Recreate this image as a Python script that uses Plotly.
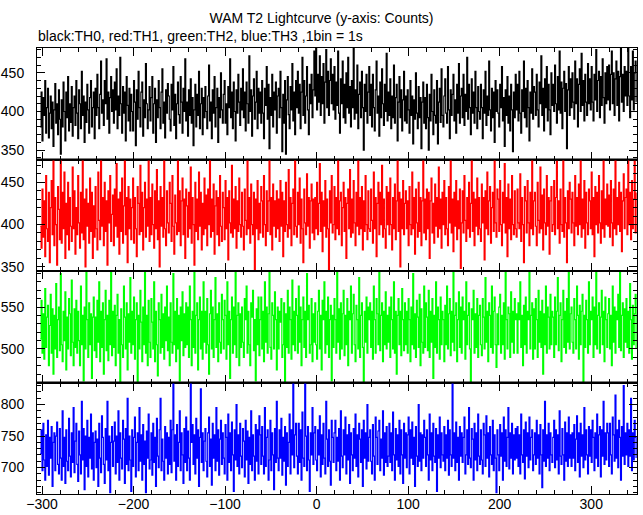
import plotly.graph_objects as go
from plotly.subplots import make_subplots

# time bins (1 bin = 1 s)
time = list(range(-302, 350))

th0 = [
380, 425, 362, 418, 395, 440, 372, 405, 430, 366, 398, 420, 378, 412, 355, 402, 436, 385, 410, 370,
428, 390, 345, 415, 380, 438, 400, 362, 425, 392, 445, 375, 410, 386, 432, 368, 405, 420, 382, 440,
398, 365, 428, 410, 378, 452, 395, 420, 360, 412, 386, 435, 402, 372, 418, 440, 380, 405, 425, 365,
430, 395, 448, 405, 378, 422, 465, 398, 415, 382, 440, 410, 468, 390, 425, 372, 418, 445, 400, 428,
385, 438, 402, 455, 378, 420, 395, 470, 410, 372, 432, 398, 425, 362, 445, 408, 388, 430, 375, 422,
400, 375, 440, 412, 356, 428, 390, 452, 405, 380, 425, 438, 368, 415, 392, 462, 410, 378, 402, 432,
388, 418, 445, 372, 410, 430, 360, 415, 392, 440, 405, 378, 425, 455, 385, 412, 366, 428, 398, 436,
420, 390, 375, 435, 402, 458, 382, 422, 365, 410, 438, 396, 385, 445, 412, 372, 430, 400, 468, 388,
412, 368, 428, 395, 442, 385, 418, 356, 402, 435, 380, 422, 395, 452, 378, 410, 430, 370, 418, 392,
432, 400, 378, 420, 460, 388, 412, 365, 428, 398, 445, 380, 405, 430, 360, 418, 392, 450, 402, 385,
422, 440, 385, 410, 370, 432, 405, 468, 392, 425, 378, 438, 400, 362, 428, 398, 448, 412, 382, 430,
402, 455, 392, 425, 375, 438, 410, 385, 472, 400, 428, 368, 420, 442, 390, 412, 452, 378, 430, 398,
425, 385, 440, 398, 365, 430, 408, 458, 390, 435, 352, 418, 395, 448, 380, 425, 402, 438, 372, 420,
430, 392, 452, 405, 348, 422, 385, 440, 345, 415, 445, 396, 378, 432, 402, 462, 388, 425, 370, 440,
405, 452, 398, 435, 378, 425, 470, 395, 440, 385, 420, 458, 402, 370, 435, 410, 448, 392, 428, 478,
420, 482, 402, 448, 412, 472, 395, 445, 410, 462, 385, 438, 480, 405, 452, 395, 440, 468, 410, 448,
402, 458, 390, 438, 408, 478, 398, 372, 442, 410, 465, 392, 435, 385, 450, 405, 470, 398, 432, 380,
440, 405, 482, 390, 428, 398, 460, 378, 422, 438, 392, 452, 405, 350, 435, 400, 448, 385, 425, 458,
395, 435, 380, 448, 405, 375, 428, 465, 398, 420, 368, 438, 392, 455, 410, 382, 435, 400, 475, 388,
425, 395, 442, 378, 420, 392, 460, 385, 418, 435, 362, 412, 445, 392, 428, 375, 415, 452, 388, 420,
385, 428, 402, 372, 440, 395, 420, 358, 415, 390, 450, 398, 378, 432, 392, 418, 352, 412, 438, 385,
418, 378, 435, 392, 350, 422, 388, 448, 400, 370, 428, 395, 385, 440, 358, 412, 430, 386, 455, 395,
380, 420, 442, 398, 385, 458, 402, 365, 428, 395, 422, 448, 388, 415, 372, 435, 398, 462, 385, 420,
430, 392, 448, 382, 422, 400, 470, 390, 435, 405, 370, 442, 398, 425, 385, 452, 405, 378, 432, 400,
390, 435, 405, 365, 428, 398, 452, 382, 420, 395, 465, 402, 375, 430, 392, 425, 360, 440, 400, 428,
398, 380, 435, 405, 458, 388, 418, 355, 428, 395, 445, 385, 420, 375, 435, 402, 348, 425, 392, 448,
402, 435, 388, 452, 398, 372, 428, 400, 465, 392, 430, 380, 440, 405, 362, 425, 398, 455, 390, 432,
425, 395, 448, 402, 380, 438, 410, 472, 395, 430, 375, 442, 405, 458, 388, 435, 402, 370, 450, 408,
435, 400, 460, 410, 385, 445, 402, 478, 398, 438, 378, 430, 452, 400, 436, 352, 428, 458, 395, 442,
405, 450, 412, 390, 465, 410, 442, 380, 435, 455, 400, 475, 408, 440, 388, 448, 412, 395, 462, 410,
442, 402, 458, 412, 388, 448, 415, 480, 400, 440, 452, 392, 445, 408, 468, 418, 385, 450, 410, 458,
415, 460, 402, 448, 478, 410, 450, 395, 442, 465, 408, 452, 388, 445, 482, 412, 448, 400, 458, 420,
452, 408, 482, 420, 392, 458, 415, 478, 402, 450, 465, 412,
]

th1 = [
398, 372, 442, 385, 428, 362, 458, 395, 380, 438, 355, 420, 452, 388, 485, 375, 432, 400, 352, 445,
418, 382, 490, 378, 438, 395, 462, 360, 425, 388, 450, 370, 432, 398, 380, 468, 395, 440, 365, 420,
388, 458, 402, 372, 438, 390, 482, 382, 430, 350, 442, 398, 425, 378, 455, 392, 438, 360, 422, 385,
445, 395, 370, 462, 405, 382, 490, 398, 432, 375, 450, 392, 428, 352, 440, 402, 458, 380, 412, 435,
375, 442, 398, 472, 385, 430, 365, 438, 392, 455, 378, 422, 488, 388, 432, 355, 445, 395, 430, 382,
420, 455, 378, 432, 395, 362, 445, 425, 388, 470, 392, 438, 370, 420, 450, 385, 430, 398, 480, 380,
432, 388, 448, 400, 372, 440, 395, 465, 382, 428, 350, 445, 398, 432, 385, 492, 395, 375, 440, 402,
390, 450, 425, 380, 458, 398, 365, 435, 402, 388, 478, 392, 440, 375, 428, 455, 388, 430, 360, 442,
422, 385, 438, 395, 468, 378, 432, 400, 352, 450, 392, 430, 382, 462, 398, 438, 370, 425, 388, 455,
395, 435, 375, 442, 400, 490, 385, 430, 392, 448, 365, 422, 440, 388, 432, 375, 458, 398, 380, 438,
420, 382, 452, 395, 432, 358, 440, 402, 390, 470, 385, 430, 395, 445, 372, 428, 392, 455, 400, 385,
438, 398, 370, 442, 405, 388, 478, 395, 432, 378, 448, 400, 388, 438, 345, 430, 395, 452, 382, 425,
390, 445, 428, 385, 458, 400, 375, 440, 392, 428, 485, 388, 432, 370, 448, 398, 428, 385, 440, 395,
430, 380, 452, 398, 438, 362, 428, 392, 450, 400, 385, 465, 395, 432, 375, 425, 442, 388, 490, 398,
385, 438, 400, 455, 378, 430, 395, 355, 442, 402, 388, 460, 398, 432, 372, 428, 448, 390, 430, 382,
432, 395, 450, 388, 425, 472, 392, 438, 368, 428, 398, 452, 385, 430, 395, 346, 440, 402, 458, 390,
400, 445, 382, 432, 395, 478, 388, 428, 438, 375, 420, 450, 392, 432, 360, 425, 442, 395, 465, 385,
430, 390, 452, 402, 375, 438, 398, 485, 388, 432, 395, 445, 370, 428, 392, 458, 400, 382, 440, 395,
392, 442, 405, 378, 462, 395, 432, 362, 425, 450, 388, 438, 400, 470, 385, 430, 395, 372, 445, 400,
438, 388, 455, 400, 370, 432, 395, 448, 382, 428, 482, 392, 438, 350, 430, 395, 452, 388, 425, 440,
395, 428, 375, 445, 400, 388, 462, 395, 432, 365, 442, 402, 385, 450, 392, 432, 375, 428, 492, 390,
430, 382, 442, 395, 438, 360, 428, 455, 390, 425, 378, 448, 398, 432, 385, 468, 395, 430, 372, 438,
400, 452, 388, 432, 395, 375, 445, 402, 480, 390, 430, 368, 438, 398, 452, 382, 428, 395, 442, 348,
402, 440, 390, 458, 405, 380, 432, 395, 450, 385, 425, 492, 392, 438, 375, 430, 398, 455, 388, 432,
395, 380, 448, 402, 432, 358, 440, 395, 462, 388, 428, 445, 378, 420, 438, 392, 488, 402, 385, 442,
430, 392, 452, 400, 375, 438, 402, 472, 390, 432, 362, 448, 395, 430, 382, 458, 400, 388, 440, 395,
385, 442, 402, 395, 460, 380, 432, 400, 355, 445, 428, 390, 452, 402, 375, 438, 395, 482, 388, 428,
438, 398, 375, 450, 405, 390, 468, 395, 435, 370, 442, 402, 388, 458, 398, 432, 365, 428, 445, 392,
400, 452, 388, 432, 475, 395, 428, 378, 442, 400, 392, 490, 385, 432, 402, 355, 440, 395, 450, 430,
390, 438, 402, 375, 458, 398, 432, 388, 448, 400, 482, 385, 430, 395, 452, 372, 438, 402, 388, 442,
428, 395, 462, 388, 432, 362, 445, 400, 438, 390, 458, 402, 378, 440, 395, 490, 385, 430, 400, 448,
398, 435, 385, 452, 402, 375, 442, 395, 478, 388, 432, 400, 450, 392, 438, 368, 428, 460, 395, 432,
442, 388, 490, 400, 438, 382, 452, 395, 430, 475, 390, 438,
]

th2 = [
512, 558, 495, 542, 488, 572, 502, 538, 552, 480, 528, 565, 495, 548, 470, 540, 500, 578, 490, 535,
550, 498, 590, 505, 485, 545, 510, 568, 475, 538, 500, 560, 542, 492, 582, 508, 480, 548, 502, 558,
495, 545, 510, 480, 575, 505, 540, 462, 550, 500, 598, 535, 490, 555, 505, 542, 465, 538, 562, 498,
538, 490, 558, 508, 580, 485, 545, 502, 555, 470, 535, 570, 498, 540, 486, 558, 505, 598, 492, 545,
502, 552, 480, 540, 565, 495, 535, 458, 548, 505, 490, 575, 538, 500, 555, 475, 542, 508, 585, 495,
545, 505, 562, 488, 535, 555, 458, 540, 500, 570, 532, 485, 550, 505, 595, 495, 540, 480, 558, 508,
490, 560, 532, 500, 580, 485, 545, 505, 468, 555, 535, 495, 565, 502, 542, 488, 550, 510, 575, 498,
538, 480, 555, 508, 495, 590, 505, 545, 485, 560, 500, 540, 462, 550, 510, 568, 492, 542, 502, 555,
505, 550, 490, 575, 535, 480, 545, 502, 598, 495, 540, 555, 475, 535, 562, 500, 545, 488, 580, 508,
545, 495, 560, 505, 470, 542, 570, 500, 550, 490, 535, 585, 502, 542, 485, 555, 508, 495, 565, 535,
500, 558, 540, 488, 580, 505, 545, 465, 535, 562, 495, 550, 505, 598, 490, 540, 555, 480, 542, 502,
550, 508, 490, 560, 535, 575, 495, 545, 505, 480, 555, 538, 570, 498, 535, 462, 548, 505, 562, 492,
535, 562, 500, 545, 485, 580, 508, 550, 495, 542, 595, 502, 488, 555, 540, 500, 568, 535, 475, 550,
500, 545, 532, 560, 490, 505, 555, 458, 542, 502, 570, 495, 550, 535, 488, 582, 505, 545, 498, 560,
540, 495, 575, 508, 550, 480, 535, 562, 502, 545, 490, 590, 535, 552, 495, 505, 560, 485, 542, 508,
555, 505, 488, 545, 570, 500, 540, 475, 558, 535, 580, 495, 545, 505, 562, 490, 535, 552, 462, 540,
502, 560, 535, 495, 595, 508, 548, 488, 555, 500, 542, 570, 492, 540, 505, 560, 480, 545, 535, 575,
495, 542, 565, 505, 485, 552, 535, 500, 585, 490, 540, 555, 502, 458, 545, 508, 562, 495, 550, 535,
555, 502, 545, 488, 575, 535, 495, 560, 542, 505, 598, 498, 540, 555, 485, 545, 505, 568, 500, 540,
508, 550, 490, 562, 535, 500, 580, 495, 545, 470, 540, 560, 505, 545, 492, 572, 535, 498, 555, 505,
545, 495, 560, 535, 485, 550, 505, 590, 500, 542, 490, 558, 538, 502, 565, 480, 548, 508, 495, 575,
502, 555, 538, 498, 570, 490, 545, 508, 560, 465, 540, 502, 580, 495, 550, 535, 488, 562, 505, 545,
535, 485, 552, 505, 575, 500, 542, 560, 492, 545, 508, 598, 498, 540, 555, 485, 535, 568, 502, 550,
495, 562, 535, 545, 488, 580, 505, 540, 555, 500, 458, 548, 535, 570, 495, 542, 502, 560, 490, 540,
552, 505, 492, 560, 538, 500, 585, 508, 545, 485, 555, 540, 502, 575, 495, 545, 562, 505, 478, 542,
505, 550, 565, 495, 540, 505, 555, 488, 595, 535, 500, 550, 542, 490, 568, 508, 545, 495, 560, 535,
542, 495, 555, 535, 580, 502, 540, 480, 552, 505, 562, 495, 545, 535, 598, 500, 540, 555, 488, 548,
500, 560, 535, 490, 570, 508, 545, 502, 558, 470, 542, 505, 575, 495, 550, 538, 500, 565, 505, 545,
538, 490, 562, 505, 545, 585, 498, 540, 555, 485, 535, 570, 502, 545, 495, 560, 508, 596, 500, 542,
550, 508, 495, 560, 535, 500, 575, 540, 488, 552, 505, 545, 565, 460, 540, 502, 558, 535, 495, 580,
505, 545, 535, 562, 490, 550, 505, 592, 500, 540, 555, 495, 538, 570, 505, 545, 485, 562, 535, 502,
542, 560, 500, 540, 480, 575, 508, 550, 495, 545, 535, 565, 502, 598, 498, 540, 555, 490, 548, 508,
560, 502, 545, 495, 578, 535, 488, 552, 505, 542, 565, 500,
]

th3 = [
722, 760, 695, 770, 712, 680, 752, 702, 775, 688, 748, 715, 765, 670, 740, 755, 695, 750, 772, 705,
690, 762, 715, 680, 790, 702, 748, 675, 760, 710, 695, 778, 718, 685, 755, 708, 795, 692, 742, 770,
705, 678, 758, 720, 690, 805, 712, 762, 665, 750, 702, 775, 685, 748, 715, 785, 698, 755, 680, 740,
758, 700, 745, 670, 770, 715, 692, 782, 748, 705, 675, 762, 712, 805, 695, 750, 660, 740, 765, 702,
742, 772, 690, 750, 708, 790, 680, 755, 715, 698, 775, 745, 675, 762, 705, 810, 695, 750, 712, 662,
760, 702, 748, 780, 685, 740, 755, 695, 795, 710, 752, 680, 768, 705, 742, 660, 758, 715, 785, 698,
712, 755, 688, 770, 708, 748, 670, 778, 718, 700, 760, 810, 695, 745, 710, 680, 765, 715, 755, 690,
748, 705, 775, 692, 760, 835, 710, 752, 680, 768, 702, 740, 790, 695, 755, 720, 675, 762, 708, 780,
695, 758, 715, 680, 835, 740, 768, 705, 752, 690, 778, 715, 760, 670, 748, 825, 708, 755, 695, 742,
762, 710, 685, 755, 780, 702, 745, 672, 770, 715, 752, 695, 795, 710, 760, 688, 745, 775, 705, 755,
715, 690, 768, 748, 680, 785, 708, 755, 695, 772, 720, 662, 760, 712, 800, 702, 752, 690, 770, 718,
700, 762, 742, 685, 775, 712, 758, 675, 748, 705, 790, 695, 752, 718, 680, 768, 710, 760, 690, 782,
752, 705, 765, 718, 690, 795, 702, 748, 760, 680, 712, 775, 695, 755, 720, 665, 762, 708, 805, 715,
695, 760, 715, 778, 688, 748, 710, 765, 672, 755, 702, 740, 785, 690, 760, 720, 835, 700, 752, 770,
718, 690, 770, 708, 760, 680, 788, 715, 702, 835, 750, 695, 765, 712, 662, 755, 720, 795, 705, 755,
765, 712, 695, 760, 720, 782, 685, 752, 705, 770, 715, 690, 805, 745, 702, 760, 710, 672, 775, 748,
708, 755, 775, 695, 748, 710, 762, 680, 790, 718, 700, 760, 720, 780, 690, 752, 712, 768, 675, 755,
720, 695, 762, 715, 785, 702, 752, 685, 770, 745, 708, 760, 670, 775, 715, 755, 698, 800, 710, 748,
760, 710, 690, 768, 718, 680, 780, 748, 705, 758, 775, 695, 745, 715, 790, 688, 755, 708, 765, 702,
718, 770, 708, 755, 695, 788, 720, 680, 762, 712, 752, 702, 775, 690, 760, 720, 675, 770, 715, 755,
700, 752, 780, 690, 760, 715, 772, 705, 748, 670, 765, 718, 702, 800, 710, 755, 695, 752, 715, 775,
748, 702, 760, 720, 680, 785, 712, 755, 695, 770, 718, 708, 762, 662, 752, 715, 780, 700, 755, 720,
710, 765, 695, 752, 715, 775, 688, 760, 720, 702, 835, 715, 755, 695, 772, 708, 748, 680, 765, 718,
755, 708, 748, 780, 690, 720, 760, 705, 795, 715, 700, 762, 745, 680, 770, 712, 755, 695, 785, 718,
705, 760, 712, 690, 770, 752, 702, 782, 715, 755, 685, 765, 720, 705, 775, 695, 752, 715, 660, 760,
720, 695, 768, 718, 755, 680, 780, 710, 760, 702, 748, 795, 698, 755, 715, 770, 690, 752, 712, 762,
715, 765, 702, 752, 690, 785, 720, 708, 760, 682, 772, 718, 755, 700, 780, 712, 748, 760, 695, 720,
755, 705, 775, 715, 752, 690, 768, 720, 668, 760, 710, 805, 702, 752, 715, 770, 695, 755, 720, 708,
748, 775, 700, 760, 712, 752, 690, 790, 718, 705, 762, 720, 680, 772, 710, 755, 702, 780, 715, 752,
702, 755, 715, 768, 695, 745, 782, 708, 755, 685, 770, 718, 752, 700, 795, 712, 760, 720, 690, 765,
718, 760, 708, 775, 748, 695, 755, 715, 785, 702, 752, 765, 685, 760, 718, 805, 705, 755, 712, 770,
755, 702, 770, 720, 690, 780, 752, 710, 815, 715, 760, 700, 775, 748, 680, 765, 718, 830, 705, 755,
720, 770, 702, 760, 718, 810, 695, 755, 712, 775, 748, 715,
]

series = [th0, th1, th2, th3]
colors = ["#000000", "#ff0000", "#00ff00", "#0000ff"]
y_ranges = [[338, 482], [345, 477], [460, 593], [658, 835]]
y_ticks = [[350, 400, 450], [350, 400, 450], [500, 550], [700, 750, 800]]
x_range = [-305.5, 350]

FONT = "Liberation Sans, Arial, Helvetica, sans-serif"

fig = make_subplots(rows=4, cols=1, shared_xaxes=True, vertical_spacing=0)

for i, (ys, c) in enumerate(zip(series, colors)):
    fig.add_trace(
        go.Scatter(x=time, y=ys, mode="lines",
                   line=dict(color=c, width=1.2, shape="hv", simplify=False),
                   showlegend=False, hoverinfo="skip"),
        row=i + 1, col=1)

axis_common = dict(
    showline=True, linecolor="black", linewidth=1, mirror="allticks",
    ticks="inside", ticklen=8, tickwidth=1, tickcolor="black",
    showgrid=False, zeroline=False, automargin=False,
    tickfont=dict(family=FONT, size=14, color="black"),
)

for i in range(4):
    fig.update_yaxes(
        range=y_ranges[i], tickmode="array", tickvals=y_ticks[i],
        ticktext=[str(v) for v in y_ticks[i]],
        minor=dict(ticks="inside", ticklen=4, dtick=10, tickcolor="black", showgrid=False),
        ticklabelstandoff=9,
        row=i + 1, col=1, **axis_common)
    fig.update_xaxes(
        range=x_range, tick0=0, dtick=100,
        minor=dict(ticks="inside", ticklen=4, dtick=20, tickcolor="black", showgrid=False),
        showticklabels=(i == 3), ticklabelstandoff=-3,
        row=i + 1, col=1, **axis_common)

# heavier separators between the stacked panels
separators = [dict(type="line", xref="paper", yref="paper", x0=0, x1=1, y0=yy, y1=yy,
                   line=dict(color="black", width=2)) for yy in (0.25, 0.5, 0.75)]

fig.update_layout(
    width=643, height=515,
    margin=dict(l=37, r=6, t=48, b=21, autoexpand=False),
    paper_bgcolor="white", plot_bgcolor="white",
    font=dict(family=FONT, color="black"),
    title=dict(text="WAM T2 Lightcurve (y-axis: Counts)", xref="container", x=0.5,
               xanchor="center", yref="container", y=1 - 18 / 515, yanchor="middle",
               font=dict(family=FONT, size=14, color="black"), automargin=False),
    annotations=[dict(text="black:TH0, red:TH1, green:TH2, blue:TH3 ,1bin = 1s",
                      xref="paper", yref="paper", x=0, y=1 + (48 - 36) / 446,
                      xanchor="left", yanchor="middle", showarrow=False, xshift=-1,
                      font=dict(family=FONT, size=14, color="black"))],
    shapes=separators,
)

fig.write_html("out.html", config={"displayModeBar": False},
               post_script="document.body.style.margin='0';document.body.style.overflow='hidden';")
